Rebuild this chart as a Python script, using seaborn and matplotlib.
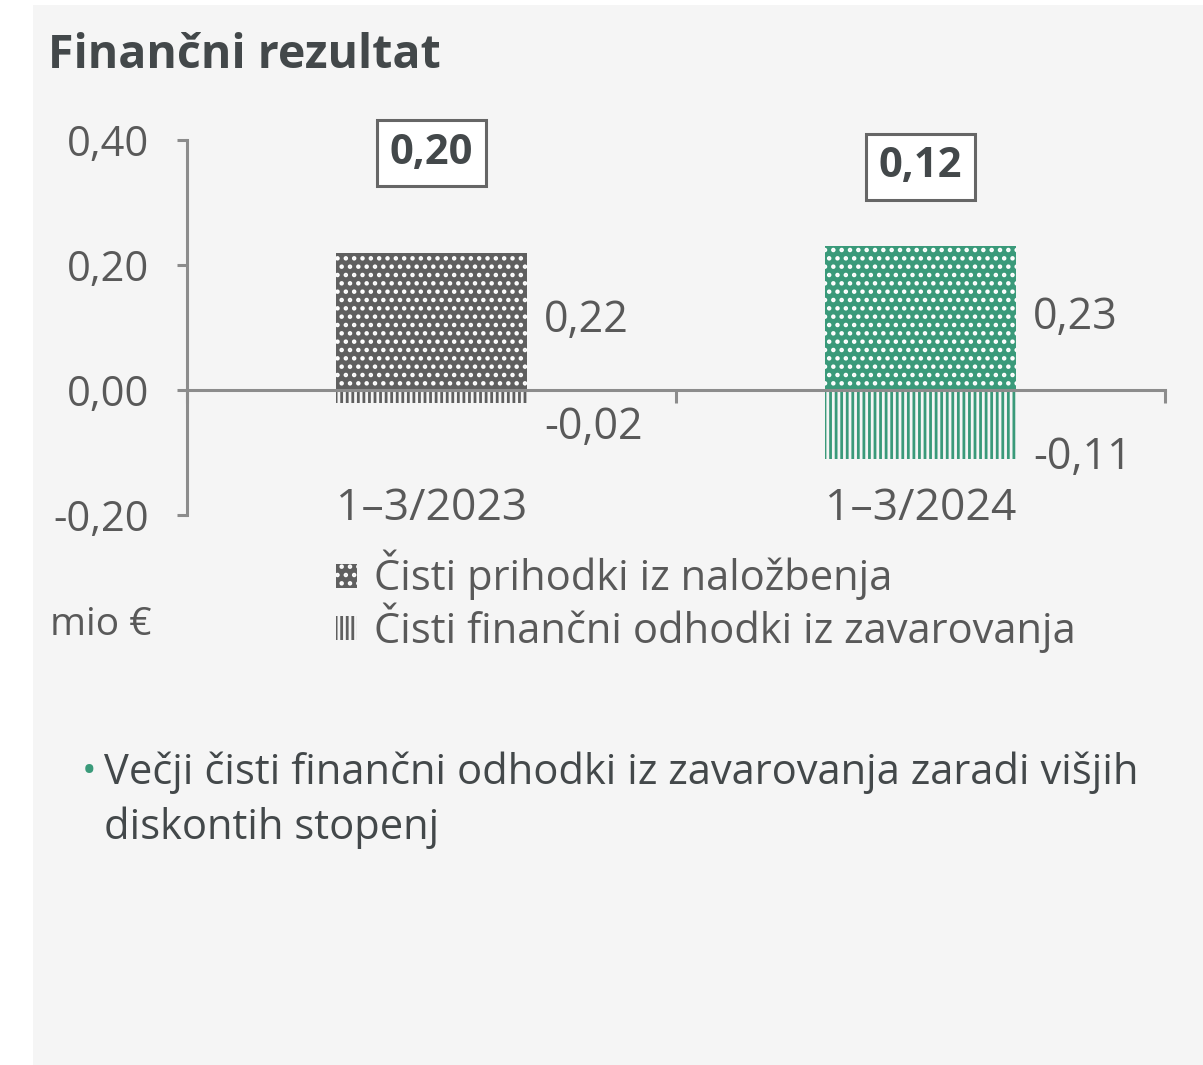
import matplotlib
matplotlib.use("Agg")
import matplotlib.pyplot as plt
import matplotlib.patches as mpatches
import seaborn as sns
import pandas as pd

# values (mio €)
periods = ["1–3/2023", "1–3/2024"]
nalozbe = [0.22, 0.23]
zavarovanje = [-0.02, -0.11]
rezultat = [0.20, 0.12]
y_ticks = [-0.20, 0.00, 0.20, 0.40]
series_names = ["Čisti prihodki iz naložbenja", "Čisti finančni odhodki iz zavarovanja"]
period_colors = ["#5f5f5f", "#3a9a7a"]

title = "Finančni rezultat"
unit = "mio €"
bullet_lines = ["Večji čisti finančni odhodki iz zavarovanja zaradi višjih", "diskontih stopenj"]

panel_bg = "#f5f5f5"
axis_grey = "#8c8c8c"
text_grey = "#595959"
dark_text = "#43484a"


def fmt(v):
    return f"{v:.2f}".replace(".", ",")


sns.set_theme(style="white")
plt.rcParams["font.family"] = ["Open Sans", "DejaVu Sans"]
plt.rcParams["hatch.linewidth"] = 2.0

W, H = 1203, 1065
fig = plt.figure(figsize=(W / 100, H / 100), dpi=100)
fig.patch.set_facecolor("white")
fig.add_artist(mpatches.Rectangle((33 / W, 0), 1, 1 - 5 / H, transform=fig.transFigure,
                                  facecolor=panel_bg, edgecolor="none", zorder=-10))

ax = fig.add_axes([187 / W, 1 - 515 / H, 978 / W, 375 / H])
ax.set_facecolor("none")

df = pd.DataFrame({
    "period": periods * 2,
    "value": nalozbe + zavarovanje,
    "series": [series_names[0]] * 2 + [series_names[1]] * 2,
})

bar_w = 0.39
sns.barplot(data=df[df.series == series_names[0]], x="period", y="value", order=periods,
            width=bar_w, errorbar=None, ax=ax)
sns.barplot(data=df[df.series == series_names[1]], x="period", y="value", order=periods,
            width=bar_w, errorbar=None, ax=ax)

bars = ax.patches
for i, p in enumerate(bars[:2]):
    p.set_facecolor(period_colors[i])
    p.set_edgecolor("white")
    p.set_linewidth(0)
    p.set_hatch("..")
for i, p in enumerate(bars[2:4]):
    p.set_facecolor(panel_bg)
    p.set_edgecolor(period_colors[i])
    p.set_linewidth(0)
    p.set_hatch("|||")

# axes styling
for s in ["top", "right"]:
    ax.spines[s].set_visible(False)
ax.spines["left"].set_color(axis_grey)
ax.spines["left"].set_linewidth(2.2)
ax.spines["bottom"].set_color(axis_grey)
ax.spines["bottom"].set_linewidth(2.2)
ax.spines["bottom"].set_position(("data", 0))
ax.spines["bottom"].set_zorder(5)

ax.set_ylim(-0.2, 0.4)
ax.set_yticks(y_ticks)
ax.set_yticklabels([fmt(v) for v in y_ticks])
ax.set_xlim(-0.5, 1.5)
ax.set_xticks([-0.5, 0.5, 1.5])
ax.set_xticklabels([])
ax.set_xlabel("")
ax.set_ylabel("")
ax.tick_params(axis="y", direction="out", length=7.5, width=2.2, color=axis_grey,
               labelsize=30, labelcolor=text_grey, pad=20, left=True)
ax.tick_params(axis="x", direction="out", length=9, width=2.2, color=axis_grey, bottom=True)

for i, p in enumerate(periods):
    ax.text(i, -0.19, p, ha="center", va="center", fontsize=32, color=text_grey)

# data labels
for i in range(2):
    ax.text(i + bar_w / 2 + 0.035, nalozbe[i] / 2, fmt(nalozbe[i]),
            ha="left", va="center", fontsize=31, color=text_grey)
neg_label_y = [-0.061, -0.109]
for i in range(2):
    ax.text(i + bar_w / 2 + 0.035, neg_label_y[i], fmt(zavarovanje[i]),
            ha="left", va="center", fontsize=31, color=text_grey)

# totals in boxes
total_y = [0.379, 0.357]
for i in range(2):
    ax.text(i, total_y[i], fmt(rezultat[i]), ha="center", va="center", fontsize=30,
            fontweight="bold", color=dark_text,
            bbox=dict(boxstyle="square,pad=0.3", fc="white", ec="#666666", lw=2.2))

# legend
handles = [
    mpatches.Patch(facecolor=period_colors[0], edgecolor="white", linewidth=0, hatch=".."),
    mpatches.Patch(facecolor=panel_bg, edgecolor=period_colors[0], linewidth=0, hatch="|||"),
]
fig.legend(handles, series_names, loc="upper left", bbox_to_anchor=(336 / W, 1 - 550 / H),
           frameon=False, fontsize=30, handlelength=0.5, handleheight=0.5,
           handletextpad=0.4, labelspacing=0.05, borderpad=0, borderaxespad=0,
           labelcolor=text_grey)

fig.text(48 / W, 1 - 55 / H, title, ha="left", va="center", fontsize=33.5,
         fontweight="bold", color=dark_text)
fig.text(50 / W, 1 - 625 / H, unit, ha="left", va="center", fontsize=28, color=text_grey)

fig.text(82 / W, 1 - 773 / H, "•", ha="left", va="center", fontsize=28, color=period_colors[1])
fig.text(104 / W, 1 - 773 / H, bullet_lines[0], ha="left", va="center", fontsize=30, color=dark_text)
fig.text(104 / W, 1 - 828 / H, bullet_lines[1], ha="left", va="center", fontsize=30, color=dark_text)

fig.savefig("out.png", dpi=100, facecolor=fig.get_facecolor())
